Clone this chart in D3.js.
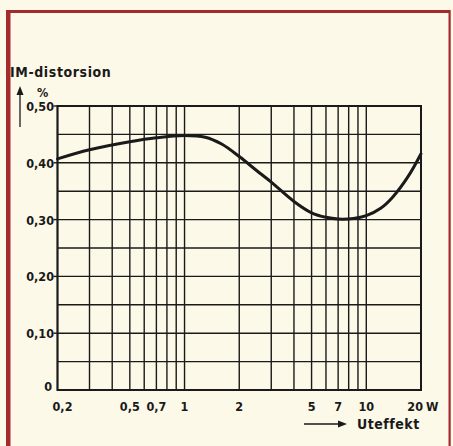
<!DOCTYPE html>
<html>
<head>
<meta charset="utf-8">
<script src="https://cdn.jsdelivr.net/npm/d3@7"></script>
<style>
  html, body { margin: 0; padding: 0; background: #fcf9e8; }
  svg { display: block; }
  text { font-family: "DejaVu Sans Condensed", "DejaVu Sans", sans-serif; font-weight: bold; fill: #1a1a1a; }
</style>
</head>
<body>
<svg id="chart" width="453" height="446"></svg>
<script>
// Output power (W) and IM distortion (%)
const powerW = [0.2, 0.3, 0.5, 0.7, 1.0, 1.3, 1.6, 2.0, 2.5, 3.0, 4.0, 5.0, 6.0, 7.0, 8.5, 10, 12, 14, 17, 20];
const imDistortion = [0.407, 0.423, 0.437, 0.444, 0.448, 0.445, 0.433, 0.411, 0.386, 0.366, 0.332, 0.312, 0.304, 0.301, 0.302, 0.307, 0.320, 0.340, 0.376, 0.416];

// Axis ticks and grid
const xTickValues = [0.2, 0.5, 0.7, 1, 2, 5, 7, 10, 20];
const xTickLabels = ["0,2", "0,5", "0,7", "1", "2", "5", "7", "10", "20"];
const xGridValues = [0.2, 0.3, 0.4, 0.5, 0.6, 0.7, 0.8, 0.9, 1, 2, 3, 4, 5, 6, 7, 8, 9, 10, 20];
const yTickValues = [0, 0.1, 0.2, 0.3, 0.4, 0.5];
const yTickLabels = ["0", "0,10", "0,20", "0,30", "0,40", "0,50"];
const yGridValues = [0.05, 0.1, 0.15, 0.2, 0.25, 0.3, 0.35, 0.4, 0.45];

const svg = d3.select("#chart");
const ink = "#1a1a1a";
const frameRed = "#a32b2c";

// Page frame
svg.append("rect").attr("x", 6).attr("y", 10).attr("width", 4.5).attr("height", 440).attr("fill", frameRed);
svg.append("rect").attr("x", 7).attr("y", 10).attr("width", 443).attr("height", 3).attr("fill", frameRed);
svg.append("rect").attr("x", 448.5).attr("y", 10).attr("width", 2.2).attr("height", 440).attr("fill", frameRed);

const plotLeft = 57.5, plotRight = 421, plotTop = 106, plotBottom = 390;
const x = d3.scaleLog().domain([0.2, 20]).range([plotLeft, plotRight]);
const y = d3.scaleLinear().domain([0, 0.5]).range([plotBottom, plotTop]);

const g = svg.append("g");

// Vertical grid
g.selectAll(".vgrid").data(xGridValues).enter().append("line")
  .attr("x1", d => x(d)).attr("x2", d => x(d))
  .attr("y1", plotTop).attr("y2", plotBottom)
  .attr("stroke", ink).attr("stroke-width", 1.4);

// Horizontal grid
g.selectAll(".hgrid").data(yGridValues).enter().append("line")
  .attr("x1", plotLeft).attr("x2", plotRight)
  .attr("y1", d => y(d)).attr("y2", d => y(d))
  .attr("stroke", ink).attr("stroke-width", 1.4);

// Plot border
g.append("rect").attr("x", plotLeft).attr("y", plotTop)
  .attr("width", plotRight - plotLeft).attr("height", plotBottom - plotTop)
  .attr("fill", "none").attr("stroke", ink).attr("stroke-width", 2);

// Y ticks
g.selectAll(".ytick").data(yTickValues.slice(1)).enter().append("line")
  .attr("x1", plotLeft - 4).attr("x2", plotLeft)
  .attr("y1", d => y(d)).attr("y2", d => y(d))
  .attr("stroke", ink).attr("stroke-width", 1.4);

// Y labels
g.selectAll(".ylab").data(yTickValues).enter().append("text")
  .attr("x", (d, i) => i === 0 ? 52 : 54)
  .attr("y", (d, i) => i === 0 ? y(d) + 1 : y(d) + 5)
  .attr("text-anchor", "end")
  .attr("font-size", 12.5)
  .text((d, i) => yTickLabels[i]);

// X labels
const lastTick = xTickValues.length - 1;
g.selectAll(".xlab").data(xTickValues).enter().append("text")
  .attr("x", (d, i) => i === 0 ? x(d) + 5 : i === lastTick ? x(d) + 2 : x(d))
  .attr("y", 411)
  .attr("text-anchor", (d, i) => i === lastTick ? "end" : "middle")
  .attr("font-size", 12.5)
  .text((d, i) => xTickLabels[i]);
svg.append("text").attr("x", 426).attr("y", 411).attr("font-size", 12.5).text("W");

// Curve
const line = d3.line()
  .x((d, i) => x(powerW[i]))
  .y(d => y(d))
  .curve(d3.curveCatmullRom.alpha(0.5));
g.append("path").datum(imDistortion)
  .attr("d", line)
  .attr("fill", "none").attr("stroke", ink).attr("stroke-width", 3)
  .attr("stroke-linecap", "round");

// Y-axis title with upward arrow
svg.append("text").attr("x", 10).attr("y", 77).attr("font-size", 14)
  .attr("letter-spacing", 0.6).text("IM-distorsion");
svg.append("text").attr("x", 37).attr("y", 97).attr("font-size", 12.5).text("%");
svg.append("line").attr("x1", 20).attr("x2", 20).attr("y1", 127).attr("y2", 92)
  .attr("stroke", ink).attr("stroke-width", 1.3);
svg.append("path").attr("d", "M20,86 L16.5,95 L23.5,95 Z").attr("fill", ink);

// X-axis title with arrow
svg.append("line").attr("x1", 304).attr("x2", 340).attr("y1", 424).attr("y2", 424)
  .attr("stroke", ink).attr("stroke-width", 1.3);
svg.append("path").attr("d", "M347,424 L338,420.5 L338,427.5 Z").attr("fill", ink);
svg.append("text").attr("x", 357).attr("y", 429).attr("font-size", 14)
  .attr("letter-spacing", 0.5).text("Uteffekt");
</script>
</body>
</html>
